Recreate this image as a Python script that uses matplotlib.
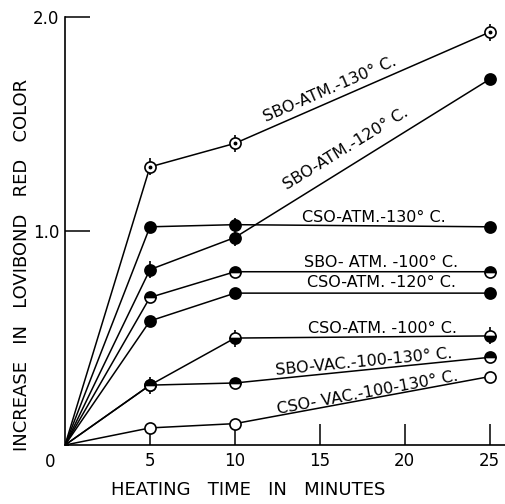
import matplotlib
matplotlib.use("Agg")
import matplotlib.pyplot as plt

# Data
times = [0, 5, 10, 25]
series_names = [
    "SBO-ATM.-130° C.",
    "SBO-ATM.-120° C.",
    "CSO-ATM.-130° C.",
    "SBO- ATM. -100° C.",
    "CSO-ATM. -120° C.",
    "CSO-ATM. -100° C.",
    "SBO-VAC.-100-130° C.",
    "CSO- VAC.-100-130° C.",
]
sbo_atm_130 = [0, 1.30, 1.41, 1.93]
sbo_atm_120 = [0, 0.82, 0.97, 1.71]
cso_atm_130 = [0, 1.02, 1.03, 1.02]
sbo_atm_100 = [0, 0.69, 0.81, 0.81]
cso_atm_120 = [0, 0.58, 0.71, 0.71]
cso_atm_100 = [0, 0.28, 0.50, 0.51]
sbo_vac = [0, 0.28, 0.29, 0.41]
cso_vac = [0, 0.08, 0.10, 0.32]

# error bar half-lengths
err_sbo_130 = [0, 0.04, 0.04, 0.04]
err_sbo_120 = [0, 0.04, 0.04, 0.0]
err_cso_130 = [0, 0.0, 0.03, 0.0]
err_cso_100 = [0, 0.04, 0.04, 0.04]

x_ticks = [5, 10, 15, 20, 25]
x_tick_labels = ["5", "10", "15", "20", "25"]
y_ticks = [1.0, 2.0]
y_tick_labels = ["1.0", "2.0"]

fig = plt.figure(figsize=(5.06, 5.04), dpi=100)
ax = fig.add_axes([0.1285, 0.117, 0.8696, 0.849])
ax.set_xlim(0, 25.9)
ax.set_ylim(0, 2.0)

lw = 1.1
ms = 8

def draw(vals, fill, err=None, center_dot=False, fillstyle='full'):
    if err is not None:
        ax.errorbar(times[1:], vals[1:], yerr=err[1:], fmt='none',
                    ecolor='black', elinewidth=1.2, capsize=0, zorder=2)
    ax.plot(times, vals, color='black', lw=lw, zorder=3)
    ax.plot(times[1:], vals[1:], linestyle='none', marker='o', ms=ms,
            markerfacecolor='black' if fill else 'white',
            markerfacecoloralt='white', fillstyle=fillstyle,
            markeredgecolor='black', markeredgewidth=1.2, zorder=4)
    if center_dot:
        ax.plot(times[1:], vals[1:], linestyle='none', marker='o', ms=1.8,
                color='black', zorder=5)

draw(sbo_atm_130, False, err_sbo_130, center_dot=True)
draw(sbo_atm_120, True, err_sbo_120)
draw(cso_atm_130, True, err_cso_130)
draw(sbo_atm_100, True, fillstyle='top')
draw(cso_atm_120, True)
draw(cso_atm_100, True, err_cso_100, fillstyle='bottom')
draw(sbo_vac, True, fillstyle='top')
draw(cso_vac, False)
ax.plot([0], [0], marker='o', ms=4, color='black', zorder=5)

# labels on curves
fs = 11.5
label_pos = [
    (15.6, 1.665, 23.5),
    (16.5, 1.385, 31.5),
    (18.2, 1.065, 0),
    (18.6, 0.855, 0),
    (18.6, 0.76, 0),
    (18.7, 0.545, 0),
    (17.6, 0.39, 5.5),
    (17.8, 0.245, 10.5),
]
for name, (x, y, rot) in zip(series_names, label_pos):
    ax.text(x, y, name, fontsize=fs, rotation=rot, ha='center', va='center',
            rotation_mode='anchor', family='DejaVu Sans')

# axes styling
for s in ['top', 'right']:
    ax.spines[s].set_visible(False)
for s in ['left', 'bottom']:
    ax.spines[s].set_linewidth(1.2)

ax.set_xticks(x_ticks)
ax.set_xticklabels(x_tick_labels, fontsize=12)
ax.set_yticks(y_ticks)
ax.set_yticklabels(y_tick_labels, fontsize=12)
ax.tick_params(axis='x', direction='in', length=15, width=1.1, pad=5)
ax.tick_params(axis='y', direction='in', length=18, width=1.1, pad=4)

ax.text(-0.9, -0.08, "0", fontsize=12, ha='center', va='center')

fig.text(0.49, 0.028, "HEATING   TIME   IN   MINUTES", fontsize=13,
         ha='center', va='center')
fig.text(0.043, 0.474, "INCREASE   IN   LOVIBOND   RED   COLOR", fontsize=13,
         rotation=90, ha='center', va='center')

fig.savefig("out.png", dpi=100)
